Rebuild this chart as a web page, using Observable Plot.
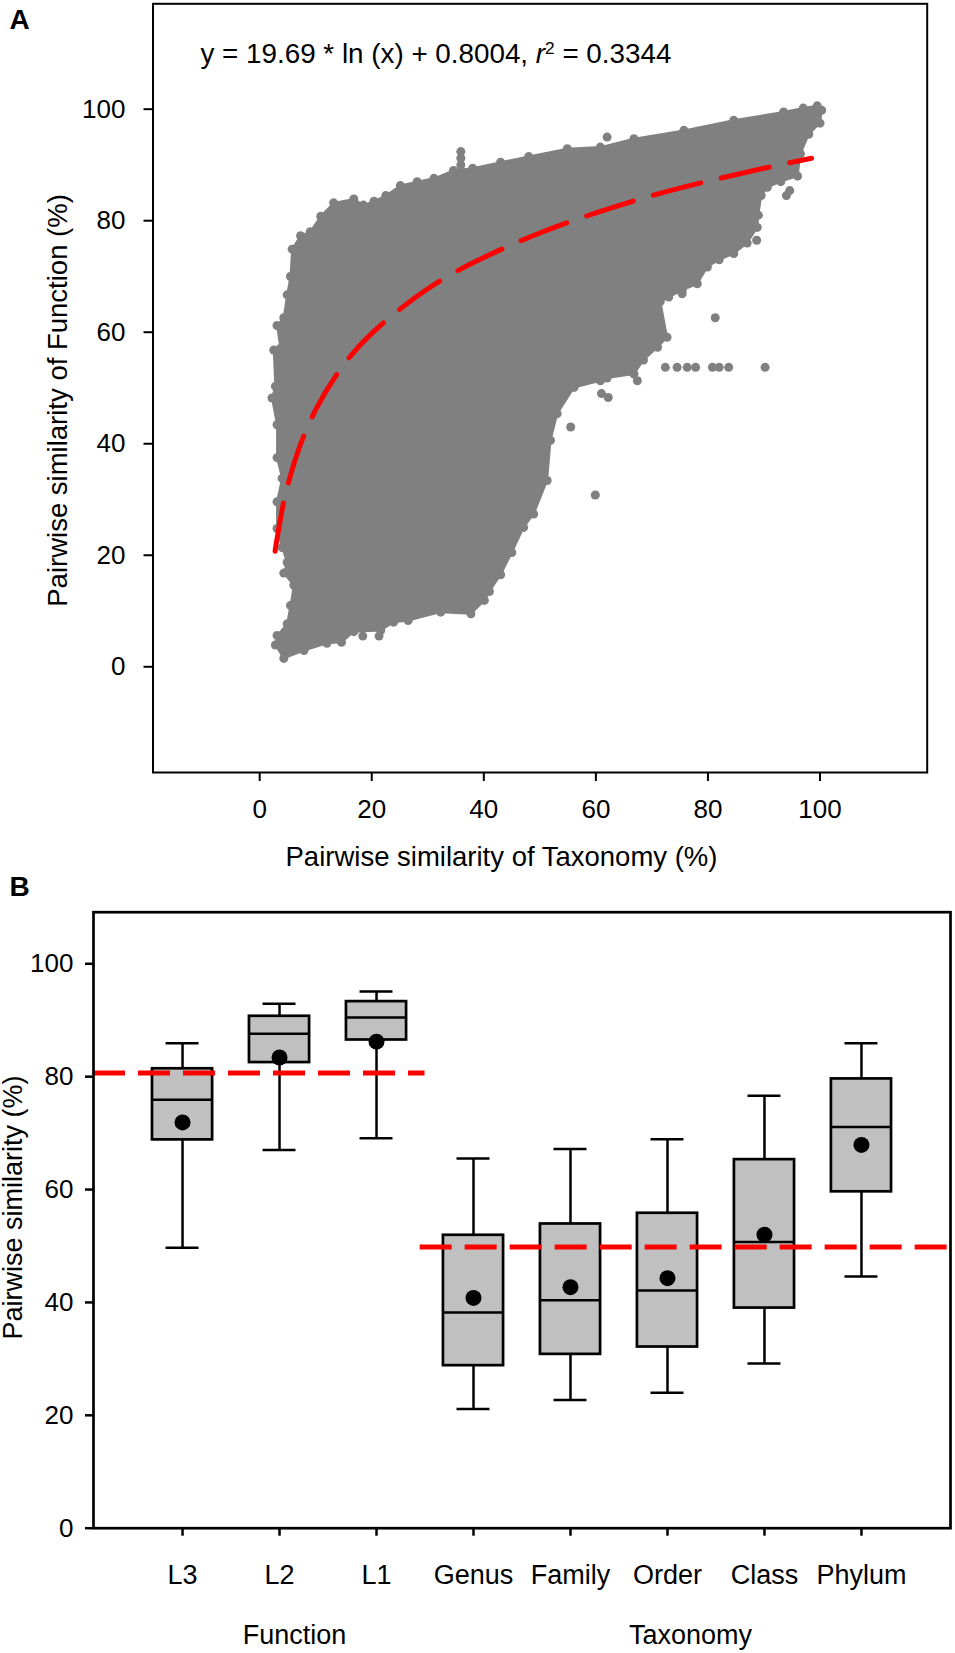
<!DOCTYPE html>
<html>
<head>
<meta charset="utf-8">
<script src="https://cdn.jsdelivr.net/npm/d3@7"></script>
<script src="https://cdn.jsdelivr.net/npm/@observablehq/plot@0.6"></script>
<style>
  html, body { margin: 0; padding: 0; background: #fff; }
  #chart { width: 955px; }
  #chart svg { display: block; }
</style>
</head>
<body>
<div id="chart"></div>
<script>
// ---------------- Panel A data ----------------
const panelLabels = ["A", "B"];
const axisTicksA = [0, 20, 40, 60, 80, 100];
const titleXA = "Pairwise similarity of Taxonomy (%)";
const titleYA = "Pairwise similarity of Function (%)";
const eqLead = "y = 19.69 * ln (x) + 0.8004, ";
const eqR = "r";
const eqSup = "2";
const eqTail = " = 0.3344";

// outline of the dense point cloud (clockwise from bottom-left)
const cloudX = [4.3,2.8,3.1,4.9,5.5,6.1,4.3,4.9,4.0,3.1,3.1,4.0,3.1,3.1,2.2,2.8,2.5,3.7,3.1,4.3,4.9,5.5,5.8,
  7.3,9.0,10.9,13.2,16.8,18.5,20.4,22.5,25.1,28.1,31.1,34.6,38.0,43.0,48.0,54.9,60.8,66.8,75.7,84.6,93.5,97.0,99.5,100.3,
  100.0,98.0,96.5,96.0,93.0,90.6,89.5,89.0,88.8,87.0,84.6,82.0,79.9,78.1,75.4,73.0,71.5,72.7,71.0,68.5,66.8,62.0,60.8,56.1,
  53.1,51.9,51.3,48.9,47.1,45.0,43.0,41.0,40.1,37.7,32.3,26.5,23.9,21.6,16.8,14.6,12.0,7.9];
const cloudY = [1.5,3.9,5.6,7.7,11.0,14.6,16.8,18.7,21.4,24.8,29.6,33.8,37.5,43.4,48.2,50.3,56.8,57.1,61.2,62.6,66.7,70.0,74.9,
  77.3,78.0,80.8,83.2,83.9,82.8,83.5,84.5,86.3,87.0,87.6,89.0,89.4,90.5,91.5,92.9,93.2,94.7,96.2,98.0,99.5,100.2,100.6,99.8,
  97.5,95.5,92.0,88.0,87.0,86.0,84.5,81.0,78.8,76.0,74.1,73.0,71.7,68.7,67.5,66.3,65.5,59.1,57.3,55.0,52.5,51.8,51.3,50.1,
  45.4,40.6,33.4,27.4,25.0,20.5,16.5,13.5,11.9,9.5,9.8,8.3,8.0,6.5,6.3,4.4,4.2,2.9];

// isolated points outside the cloud
const outX = [35.9,35.9,35.9,62.0,94.0,94.6,88.7,81.3,75.4,72.4,74.5,76.3,77.8,80.8,82.0,83.7,90.2,61.0,62.2,67.4,55.5,59.9,18.4,21.3];
const outY = [92.4,91.2,90.0,95.0,84.5,85.4,76.5,62.6,66.9,53.7,53.7,53.7,53.7,53.7,53.7,53.7,53.7,49.0,48.3,51.3,43.0,30.8,5.5,5.5];

// fitted curve
const fitX = [2.75, 3, 4, 5, 7, 10, 14, 20, 30, 40, 50, 60, 70, 80, 90, 98.5];
const fitY = [20.7, 22.4, 28.1, 32.5, 39.1, 46.1, 52.8, 59.8, 67.8, 73.4, 77.8, 81.4, 84.5, 87.1, 89.4, 91.2];

// ---------------- Panel B data ----------------
const categories = ["L3", "L2", "L1", "Genus", "Family", "Order", "Class", "Phylum"];
const whiskerLow  = [49.7, 67.0, 69.1, 21.1, 22.7, 24.0, 29.2, 44.6];
const q1          = [68.8, 82.5, 86.5, 28.8, 30.8, 32.1, 39.0, 59.6];
const median      = [75.9, 87.6, 90.5, 38.2, 40.4, 42.1, 50.7, 71.1];
const q3          = [81.4, 90.7, 93.3, 51.9, 53.9, 55.8, 65.3, 79.6];
const whiskerHigh = [85.9, 92.9, 95.1, 65.5, 67.2, 68.9, 76.6, 85.9];
const means       = [71.9, 83.4, 86.2, 40.8, 42.7, 44.3, 52.0, 67.9];
const groupNames  = ["Function", "Taxonomy"];
const groupMembers = [[0, 1, 2], [3, 4, 5, 6, 7]];
const groupMeanLine = [80.65, 49.8];
const axisTicksB = [0, 20, 40, 60, 80, 100];
const titleYB = "Pairwise similarity (%)";

// ---------------- build tables ----------------
const gray = "#808080";
const red = "#ff0000";
const cloud = cloudX.map((x, i) => ({x, y: cloudY[i]}));
const outliers = outX.map((x, i) => ({x, y: outY[i]}));
const fit = fitX.map((x, i) => ({x, y: fitY[i]}));

const xDomA = [-19.04, 119.13];
const yDomA = [-18.96, 118.9];
const xDomB = [-0.918, 7.918];
const yDomB = [0, 109.14];

const boxes = categories.map((c, i) => ({
  i, c, lo: whiskerLow[i], q1: q1[i], median: median[i], q3: q3[i], hi: whiskerHigh[i], mean: means[i]
}));
const boxHalf = 0.31, capHalf = 0.17;
const refLines = [
  {value: groupMeanLine[0], from: xDomB[0], to: 2.5},
  {value: groupMeanLine[1], from: 2.45, to: xDomB[1]}
];
const groups = groupNames.map((name, g) => ({name, center: d3.mean(groupMembers[g])}));

const font = "'Liberation Sans', Arial, Helvetica, sans-serif";
const baseStyle = {fontFamily: font, fontSize: "26px", color: "#000", background: "#fff", overflow: "visible"};

const plotA = Plot.plot({
  width: 955, height: 880,
  marginLeft: 152.5, marginRight: 28.3, marginTop: 3.3, marginBottom: 108,
  style: baseStyle,
  x: {domain: xDomA},
  y: {domain: yDomA},
  marks: [
    Plot.line(cloud, {x: "x", y: "y", curve: "linear-closed", fill: gray, stroke: gray, strokeWidth: 2}),
    Plot.dot(cloud, {x: "x", y: "y", r: 4.5, fill: gray}),
    Plot.dot(outliers, {x: "x", y: "y", r: 4.5, fill: gray}),
    Plot.line(fit, {x: "x", y: "y", curve: "natural", stroke: red, strokeWidth: 5, strokeDasharray: "49,21"}),
    Plot.frame({stroke: "#000", strokeWidth: 2}),
    Plot.axisX({ticks: axisTicksA, tickSize: 9, tickPadding: 17.7, strokeWidth: 2, label: null}),
    Plot.axisY({ticks: axisTicksA, tickSize: 9, tickPadding: 18.5, strokeWidth: 2, label: null}),
    Plot.text([panelLabels[0]], {text: d => d, frameAnchor: "top-left", dx: -133.5, dy: 16.7, fontSize: 28, fontWeight: "bold", textAnchor: "middle", lineAnchor: "middle"}),
    Plot.text([eqLead + eqR + eqSup + eqTail], {text: d => d, frameAnchor: "top-left", dx: 47.5, dy: 50.5, fontSize: 27.8, textAnchor: "start", lineAnchor: "middle"}),
    Plot.text([titleXA], {text: d => d, frameAnchor: "bottom", dx: -38.6, dy: 85, fontSize: 27.5, textAnchor: "middle", lineAnchor: "middle"}),
    Plot.text([titleYA], {text: d => d, frameAnchor: "left", dx: -95, dy: 12.3, rotate: -90, fontSize: 27.5, textAnchor: "middle", lineAnchor: "middle"})
  ]
});

// rich formatting of the regression equation (italic r, superscript 2)
d3.select(plotA).selectAll("text")
  .filter(function() { return this.textContent === eqLead + eqR + eqSup + eqTail; })
  .each(function() {
    const t = d3.select(this);
    t.text(null);
    t.append("tspan").text(eqLead);
    t.append("tspan").attr("font-style", "italic").text(eqR);
    t.append("tspan").attr("font-size", "0.62em").attr("dy", "-0.55em").text(eqSup);
    t.append("tspan").attr("dy", "0.341em").text(eqTail);
  });

const plotB = Plot.plot({
  width: 955, height: 773,
  marginLeft: 93, marginRight: 5, marginTop: 31.7, marginBottom: 125.3,
  style: baseStyle,
  x: {domain: xDomB},
  y: {domain: yDomB},
  marks: [
    Plot.ruleX(boxes, {x: "i", y1: "q3", y2: "hi", stroke: "#000", strokeWidth: 2.5}),
    Plot.ruleX(boxes, {x: "i", y1: "lo", y2: "q1", stroke: "#000", strokeWidth: 2.5}),
    Plot.ruleY(boxes, {y: "hi", x1: d => d.i - capHalf, x2: d => d.i + capHalf, stroke: "#000", strokeWidth: 2.5}),
    Plot.ruleY(boxes, {y: "lo", x1: d => d.i - capHalf, x2: d => d.i + capHalf, stroke: "#000", strokeWidth: 2.5}),
    Plot.rect(boxes, {x1: d => d.i - boxHalf, x2: d => d.i + boxHalf, y1: "q1", y2: "q3", fill: "#c0c0c0", stroke: "#000", strokeWidth: 2.7}),
    Plot.ruleY(boxes, {y: "median", x1: d => d.i - boxHalf, x2: d => d.i + boxHalf, stroke: "#000", strokeWidth: 2.5}),
    Plot.dot(boxes, {x: "i", y: "mean", r: 8, fill: "#000"}),
    Plot.ruleY(refLines, {y: "value", x1: "from", x2: "to", stroke: red, strokeWidth: 5, strokeDasharray: "32,13"}),
    Plot.frame({stroke: "#000", strokeWidth: 2.7}),
    Plot.axisX({ticks: boxes.map(d => d.i), tickFormat: i => categories[i], tickSize: 8, tickPadding: 28.3, strokeWidth: 2.5, label: null, fontSize: 27}),
    Plot.axisY({ticks: axisTicksB, tickSize: 8, tickPadding: 12, strokeWidth: 2.5, label: null}),
    Plot.text([panelLabels[1]], {text: d => d, frameAnchor: "top-left", dx: -74, dy: -24.7, fontSize: 28, fontWeight: "bold", textAnchor: "middle", lineAnchor: "middle"}),
    Plot.text([groups[0]], {x: "center", text: "name", frameAnchor: "bottom", dx: 15, dy: 107.3, fontSize: 27, textAnchor: "middle", lineAnchor: "middle"}),
    Plot.text([groups[1]], {x: "center", text: "name", frameAnchor: "bottom", dx: 23, dy: 107.3, fontSize: 27, textAnchor: "middle", lineAnchor: "middle"}),
    Plot.text([titleYB], {text: d => d, frameAnchor: "left", dx: -80, dy: -12.7, rotate: -90, fontSize: 27, textAnchor: "middle", lineAnchor: "middle"})
  ]
});

const chart = document.getElementById("chart");
chart.appendChild(plotA);
chart.appendChild(plotB);
</script>
</body>
</html>
